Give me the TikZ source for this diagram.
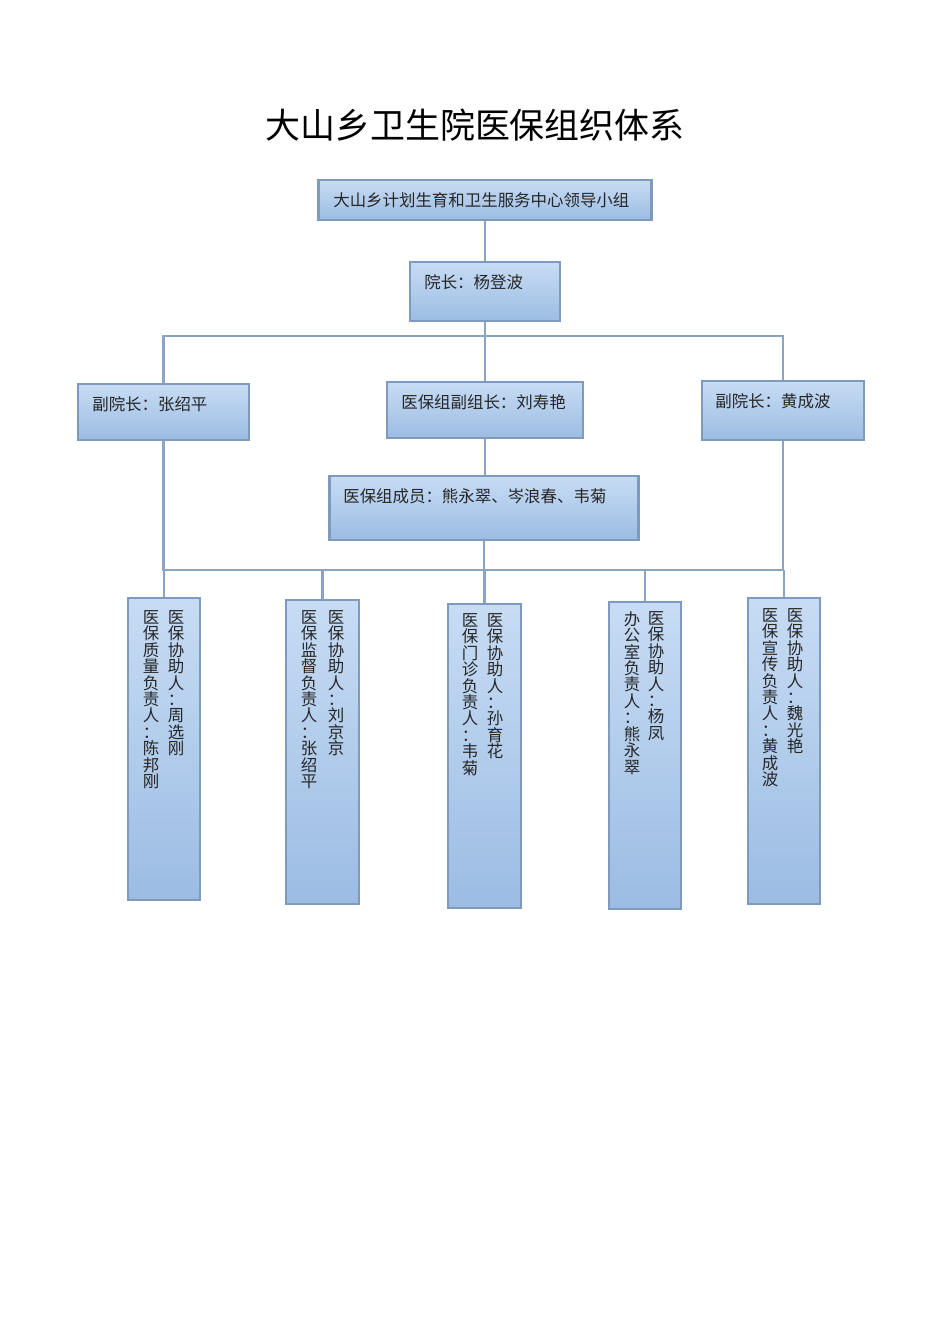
\documentclass[tikz,border=0pt]{standalone}
\usepackage{fontspec}
\setmainfont{Noto Sans CJK SC}
\newlength\upx
\setlength\upx{0.6263pt}
\definecolor{boxtop}{RGB}{199,220,244}
\definecolor{boxbot}{RGB}{156,188,227}
\definecolor{boxline}{RGB}{126,155,190}
\definecolor{connline}{RGB}{140,164,196}
\begin{document}
\begin{tikzpicture}[x=0.6263pt,y=-0.6263pt,
  box/.style={draw=boxline, line width=1.3pt, top color=boxtop, bottom color=boxbot, inner sep=0pt},
  lbl/.style={inner sep=0pt, font=\fontsize{10.3}{10.3}\selectfont, text=black!85},
  vcol/.style={inner sep=0pt, align=center, font=\fontsize{10.3}{10.3}\selectfont, text=black!85},
  conn/.style={draw=connline, line width=1.3pt}]
\useasboundingbox[fill=white] (0,0) rectangle (950,1344);
\node[inner sep=0pt, font=\fontsize{21.9}{22}\selectfont] (title) at (475,125) {大山乡卫生院医保组织体系};
% boxes
\node[box, minimum width=333\upx, minimum height=40\upx] (lead) at (485,200) {};
\node[lbl, anchor=west] (tlead) at (333,200) {大山乡计划生育和卫生服务中心领导小组};
\node[box, minimum width=150\upx, minimum height=59\upx] (dean) at (485,291.5) {};
\node[lbl, anchor=west] (tdean) at (424,282) {院长：杨登波};
\node[box, minimum width=171\upx, minimum height=56\upx] (vp1) at (163.5,412) {};
\node[lbl, anchor=west] (tvp1) at (92,404) {副院长：张绍平};
\node[box, minimum width=196\upx, minimum height=56\upx] (dep) at (485,410) {};
\node[lbl, anchor=west] (tdep) at (401,402) {医保组副组长：刘寿艳};
\node[box, minimum width=162\upx, minimum height=59\upx] (vp2) at (783,410.5) {};
\node[lbl, anchor=west] (tvp2) at (715,401) {副院长：黄成波};
\node[box, minimum width=309\upx, minimum height=64\upx] (mem) at (484,508) {};
\node[lbl, anchor=west] (tmem) at (343,496) {医保组成员：熊永翠、岑浪春、韦菊};
% bottom boxes
\node[box, minimum width=72\upx, minimum height=302\upx] (b1) at (164,749) {};
\node[box, minimum width=73\upx, minimum height=304\upx] (b2) at (322.5,752) {};
\node[box, minimum width=73\upx, minimum height=304\upx] (b3) at (484.5,756) {};
\node[box, minimum width=72\upx, minimum height=307\upx] (b4) at (645,755.5) {};
\node[box, minimum width=72\upx, minimum height=306\upx] (b5) at (784,751) {};
% vertical texts
\node[vcol, anchor=north] (b1r) at (176,610) {医\\保\\协\\助\\人\\：\\周\\选\\刚};
\node[vcol, anchor=north] (b1l) at (151,610) {医\\保\\质\\量\\负\\责\\人\\：\\陈\\邦\\刚};
\node[vcol, anchor=north] (b2r) at (336,610) {医\\保\\协\\助\\人\\：\\刘\\京\\京};
\node[vcol, anchor=north] (b2l) at (309,610) {医\\保\\监\\督\\负\\责\\人\\：\\张\\绍\\平};
\node[vcol, anchor=north] (b3r) at (495,613) {医\\保\\协\\助\\人\\：\\孙\\育\\花};
\node[vcol, anchor=north] (b3l) at (470,613) {医\\保\\门\\诊\\负\\责\\人\\：\\韦\\菊};
\node[vcol, anchor=north] (b4r) at (656,611) {医\\保\\协\\助\\人\\：\\杨\\凤};
\node[vcol, anchor=north] (b4l) at (632,611) {办\\公\\室\\负\\责\\人\\：\\熊\\永\\翠};
\node[vcol, anchor=north] (b5r) at (795,608) {医\\保\\协\\助\\人\\：\\魏\\光\\艳};
\node[vcol, anchor=north] (b5l) at (770,608) {医\\保\\宣\\传\\负\\责\\人\\：\\黄\\成\\波};
% connectors
\coordinate (h1) at (485,336);
\coordinate (bus) at (484,570);
\draw[conn] (lead.south) -- (dean.north);
\draw[conn] (dean.south) -- (dep.north);
\draw[conn] (vp1.north) |- (h1) -| (vp2.north);
\draw[conn] (dep.south) -- (dep.south |- mem.north);
\draw[conn] (vp1.south) -- (vp1.south |- bus) -- (vp2.south |- bus) -- (vp2.south);
\draw[conn] (mem.south) -- (mem.south |- bus);
\draw[conn] (b1.north) -- (b1.north |- bus);
\draw[conn] (b2.north) -- (b2.north |- bus);
\draw[conn] (b3.north) -- (b3.north |- bus);
\draw[conn] (b4.north) -- (b4.north |- bus);
\draw[conn] (b5.north) -- (b5.north |- bus);
\end{tikzpicture}
\end{document}
